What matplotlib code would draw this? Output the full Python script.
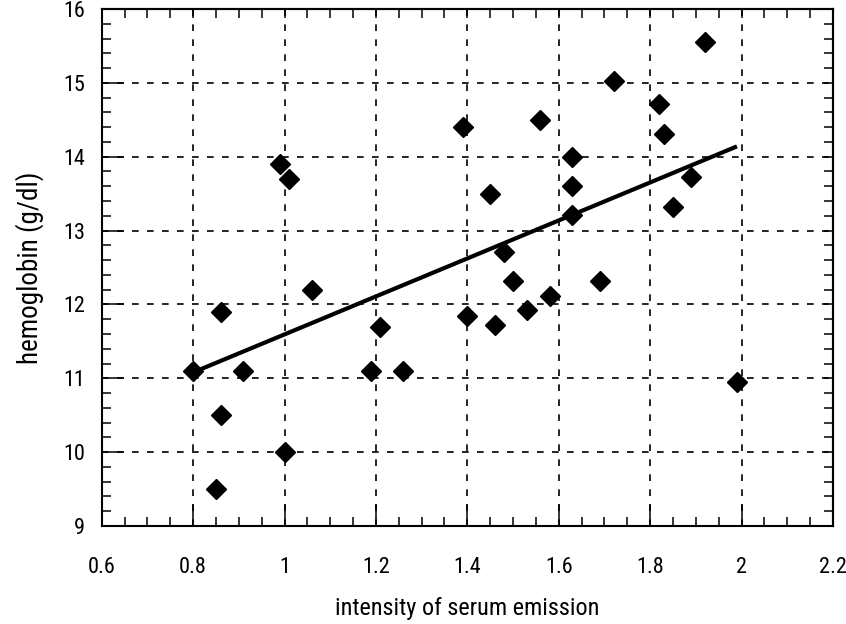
import matplotlib
matplotlib.use("Agg")
import matplotlib.pyplot as plt
import numpy as np

# -----------------------------
# Data
# -----------------------------
emission = [0.80, 0.86, 0.91, 0.86, 0.85, 1.00, 0.99, 1.01, 1.06, 1.19, 1.21,
            1.26, 1.39, 1.40, 1.45, 1.46, 1.48, 1.50, 1.53, 1.56, 1.58, 1.63,
            1.63, 1.63, 1.69, 1.72, 1.82, 1.83, 1.85, 1.89, 1.92, 1.99]
hemoglobin = [11.1, 11.9, 11.1, 10.5, 9.5, 10.0, 13.9, 13.7, 12.2, 11.1, 11.7,
              11.1, 14.4, 11.85, 13.5, 11.72, 12.71, 12.32, 11.93, 14.5, 12.12, 14.0,
              13.61, 13.21, 12.32, 15.02, 14.71, 14.31, 13.32, 13.72, 15.55, 10.95]

# regression line end points
fit_x = [0.80, 1.99]
fit_y = [11.08, 14.14]

x_ticks = [0.6, 0.8, 1.0, 1.2, 1.4, 1.6, 1.8, 2.0, 2.2]
x_labels = ["0.6", "0.8", "1", "1.2", "1.4", "1.6", "1.8", "2", "2.2"]
y_ticks = [9, 10, 11, 12, 13, 14, 15, 16]

import logging
logging.getLogger("matplotlib.font_manager").setLevel(logging.ERROR)
plt.rcParams["font.family"] = ["Roboto Condensed", "Liberation Sans Narrow",
                               "Roboto", "DejaVu Sans"]

# -----------------------------
# Figure
# -----------------------------
fig = plt.figure(figsize=(8.46, 6.24), dpi=100)
ax = fig.add_axes([0.1202, 0.157, 0.8644, 0.8286])

ax.plot(fit_x, fit_y, color="black", lw=3, solid_capstyle="butt", zorder=3)
ax.plot(emission, hemoglobin, "D", color="black", ms=10, zorder=4)

ax.set_xlim(0.6, 2.2)
ax.set_ylim(9, 16)
ax.set_xticks(x_ticks)
ax.set_xticklabels(x_labels)
ax.set_yticks(y_ticks)
ax.set_xticks(np.arange(0.6, 2.2001, 0.05), minor=True)
ax.set_yticks(np.arange(9, 16.001, 0.2), minor=True)

# dashed grid only at inner major ticks
for xv in x_ticks[1:-1]:
    ax.axvline(xv, color="black", lw=1.2, ls=(0, (4, 5)), zorder=1)
for yv in y_ticks[1:-1]:
    ax.axhline(yv, color="black", lw=1.2, ls=(0, (4, 5)), zorder=1)

ax.tick_params(which="major", direction="in", length=16, width=1.1,
               labelsize=16, top=False, right=False)
ax.tick_params(axis="x", which="major", pad=22)
ax.tick_params(axis="y", which="major", pad=12)
ax.tick_params(which="minor", direction="in", length=6.5, width=1.1,
               top=False, right=False)

# short ticks on top and right
top = ax.secondary_xaxis("top")
top.set_xticks(np.arange(0.65, 2.2, 0.05))
top.tick_params(direction="in", length=6.5, width=1.1, labeltop=False)
right = ax.secondary_yaxis("right")
right.set_yticks(np.arange(9.2, 16, 0.2))
right.tick_params(direction="in", length=6.5, width=1.1, labelright=False)

for sp in list(ax.spines.values()) + [top.spines["top"], right.spines["right"]]:
    sp.set_linewidth(1.5)

ax.set_xlabel("intensity of serum emission", fontsize=17.5, labelpad=14)
ax.set_ylabel("hemoglobin (g/dl)", fontsize=19.5, labelpad=14)

fig.savefig("out.png", dpi=100)
